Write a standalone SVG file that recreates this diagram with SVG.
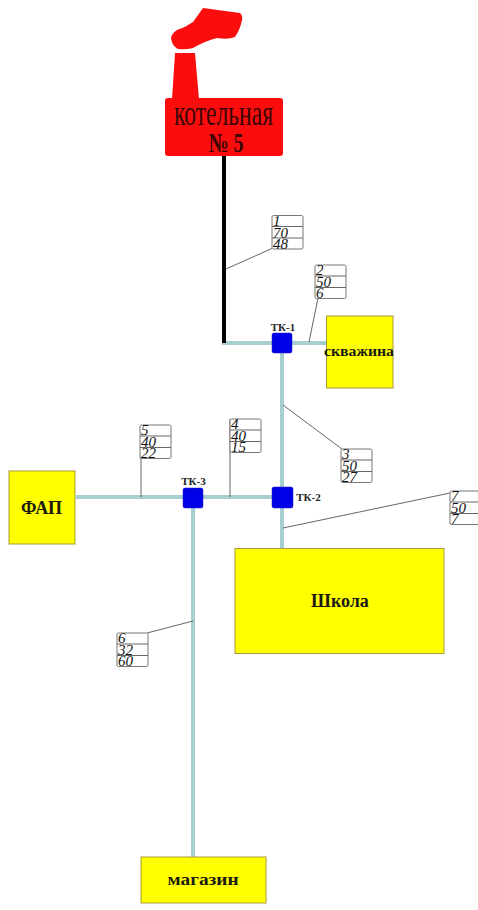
<svg xmlns="http://www.w3.org/2000/svg" width="478" height="910" viewBox="0 0 478 910">
<style>
text{font-family:"Liberation Serif","Times New Roman",serif}
.pipe{fill:none;stroke:#a6cfd2;stroke-width:4}
.lead{fill:none;stroke:#666;stroke-width:1}
.y{fill:#ffff00;stroke:#a89a3a;stroke-width:1}
.tk{fill:#0000e6;stroke:#1a1ac0;stroke-width:.5}
.b{font-weight:bold;fill:#1a1a10;text-anchor:middle}
.tl{font-size:11px;font-weight:bold;fill:#222;text-anchor:middle}
.box{fill:#fff;stroke:#777;stroke-width:1}
.n{font-size:15px;font-style:italic;fill:#111}
</style>
<defs>
<g id="tbl"><rect class="box" x="0" y="0" width="31" height="33.5" rx="1.5"/><path class="lead" d="M0 11H31M0 22.500H31"/></g>
</defs>
<rect width="478" height="910" fill="#fff"/>
<g id="connectors">
<path class="pipe" d="M222 343H327M282 343V548M76 497H282M193 497V857"/>
<path d="M224 155V343" fill="none" stroke="#000" stroke-width="4"/>
<path class="lead" d="M226 269L273 248M309 342L318 298M283 405L342 449M230 497V419M141 497V458M193 621L147 633M283 528L450 493"/>
</g>
<g id="boiler">
<path d="M175 53H195L199 99H172Z" fill="#fb0d0d"/>
<path d="M203 8L240 13Q243 16 242 20Q240 30 235 37Q228 40 217 38Q205 41 193 48Q185 50 178 49Q172 46 171 38Q172 33 177 30Q186 27 193 22Z" fill="#fb0d0d"/>
<rect x="165" y="98" width="118" height="58" rx="3" fill="#fb0d0d"/>
<text x="223.500" y="125" font-size="35" text-anchor="middle" fill="#3a0606" textLength="99" lengthAdjust="spacingAndGlyphs">котельная</text>
<text x="226" y="152" font-size="27" font-weight="bold" text-anchor="middle" fill="#3a0606" textLength="35" lengthAdjust="spacingAndGlyphs">№ 5</text>
</g>
<g id="skvazhina"><rect class="y" x="326.500" y="316" width="66.500" height="72"/><text class="b" x="359" y="356" font-size="14" textLength="70" lengthAdjust="spacingAndGlyphs">скважина</text></g>
<g id="fap"><rect class="y" x="9" y="471" width="66" height="73"/><text class="b" x="41.500" y="514" font-size="18">ФАП</text></g>
<g id="shkola"><rect class="y" x="235" y="548.500" width="209" height="105"/><text class="b" x="340" y="607" font-size="18">Школа</text></g>
<g id="magazin"><rect class="y" x="141" y="857" width="125" height="46"/><text class="b" x="203" y="884.500" font-size="17" textLength="71" lengthAdjust="spacingAndGlyphs">магазин</text></g>
<g id="tk1"><rect class="tk" x="272" y="333" width="20" height="20" rx="2"/><text class="tl" x="283" y="331">ТК-1</text></g>
<g id="tk2"><rect class="tk" x="272" y="487" width="21" height="21" rx="2"/><text class="tl" x="308.500" y="501">ТК-2</text></g>
<g id="tk3"><rect class="tk" x="183" y="488" width="20" height="20" rx="2"/><text class="tl" x="193.500" y="485">ТК-3</text></g>
<g id="label1" transform="translate(272 215.500)"><use href="#tbl"/><text class="n" x="1" y="10">1</text><text class="n" x="1" y="22">70</text><text class="n" x="1" y="33">48</text></g>
<g id="label2" transform="translate(315 265)"><use href="#tbl"/><text class="n" x="1" y="10">2</text><text class="n" x="1" y="22">50</text><text class="n" x="1" y="33">6</text></g>
<g id="label3" transform="translate(341 449)"><use href="#tbl"/><text class="n" x="1" y="10">3</text><text class="n" x="1" y="22">50</text><text class="n" x="1" y="33">27</text></g>
<g id="label4" transform="translate(230 419)"><use href="#tbl"/><text class="n" x="1" y="10">4</text><text class="n" x="1" y="22">40</text><text class="n" x="1" y="33">15</text></g>
<g id="label5" transform="translate(140 425)"><use href="#tbl"/><text class="n" x="1" y="10">5</text><text class="n" x="1" y="22">40</text><text class="n" x="1" y="33">22</text></g>
<g id="label6" transform="translate(117 633)"><use href="#tbl"/><text class="n" x="1" y="10">6</text><text class="n" x="1" y="22">32</text><text class="n" x="1" y="33">60</text></g>
<g id="label7" transform="translate(450 491)"><use href="#tbl"/><text class="n" x="1" y="10">7</text><text class="n" x="1" y="22">50</text><text class="n" x="1" y="33">7</text></g>
</svg>
